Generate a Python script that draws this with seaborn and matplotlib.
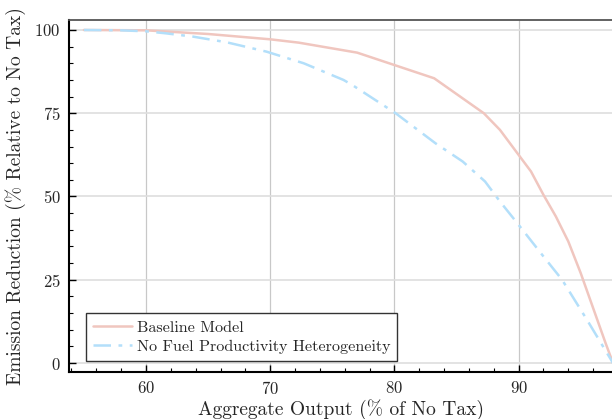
import matplotlib
matplotlib.use("Agg")
import matplotlib.pyplot as plt
import seaborn as sns
import pandas as pd
from matplotlib.ticker import MultipleLocator

# Data
base_x = [55.0, 60.0, 65.0, 70.0, 72.3, 77.0, 83.2, 87.2, 88.5, 90.0, 91.0, 92.0, 93.0, 94.0, 95.0, 96.0, 97.0, 97.6]
base_y = [100.0, 99.9, 98.8, 97.2, 96.2, 93.2, 85.5, 75.0, 70.0, 62.5, 57.5, 50.5, 44.0, 36.5, 27.0, 16.5, 6.0, 0.0]

nofuel_x = [55.0, 58.0, 60.0, 61.6, 63.8, 66.5, 69.7, 72.7, 75.9, 76.6, 80.1, 83.3, 85.5, 87.3, 88.5, 90.0, 92.0, 93.5, 95.5, 97.6]
nofuel_y = [100.0, 99.9, 99.6, 99.0, 98.0, 96.3, 93.5, 90.0, 85.0, 83.5, 75.0, 66.0, 60.5, 54.5, 48.5, 41.5, 32.0, 25.0, 13.0, 0.0]

labels = ["Baseline Model", "No Fuel Productivity Heterogeneity"]
colors = ["#F0C6BF", "#B3DFFA"]

df = pd.concat([
    pd.DataFrame({"x": base_x, "y": base_y, "series": labels[0]}),
    pd.DataFrame({"x": nofuel_x, "y": nofuel_y, "series": labels[1]}),
], ignore_index=True)

sns.set_theme(style="white")
plt.rcParams["font.family"] = ["cmr10", "DejaVu Serif"]
plt.rcParams["mathtext.fontset"] = "cm"
plt.rcParams["axes.formatter.use_mathtext"] = True

fig = plt.figure(figsize=(6.12, 4.19), dpi=100)
ax = fig.add_axes([69 / 612, (419 - 372) / 419, (613 - 69) / 612, (372 - 20) / 419])

sns.lineplot(data=df, x="x", y="y", hue="series", style="series",
             palette=dict(zip(labels, colors)),
             dashes={labels[0]: "", labels[1]: (7, 3, 1.5, 3)},
             linewidth=1.8, sort=False, estimator=None, ax=ax)

ax.set_xlim(53.8, 97.6)
ax.set_ylim(-2.7, 103)
ax.xaxis.set_major_locator(MultipleLocator(10))
ax.xaxis.set_minor_locator(MultipleLocator(2))
ax.yaxis.set_major_locator(MultipleLocator(25))
ax.yaxis.set_minor_locator(MultipleLocator(5))

ax.grid(True, which="major", axis="x", color="#c8c8c8", linewidth=0.9)
ax.grid(True, which="major", axis="y", color="#dedede", linewidth=1.2)

ax.tick_params(axis="both", which="major", direction="in", length=5, width=1.0,
               color="black", labelsize=12, pad=6, bottom=True, left=True)
ax.tick_params(axis="both", which="minor", direction="in", length=3, width=0.8,
               color="black", bottom=True, left=True)

for s in ["left", "bottom"]:
    ax.spines[s].set_color("black")
    ax.spines[s].set_linewidth(1.5)
ax.spines["top"].set_color("#555555")
ax.spines["top"].set_linewidth(1.3)
ax.spines["right"].set_visible(False)

ax.set_xlabel("Aggregate Output (% of No Tax)", fontsize=14, labelpad=1)
ax.set_ylabel("Emission Reduction (% Relative to No Tax)", fontsize=14, labelpad=6)

leg = ax.legend(loc="lower left", fontsize=11.6, frameon=True, fancybox=False,
                edgecolor="#333333", borderpad=0.45, labelspacing=0.3,
                handlelength=2.4, handletextpad=0.3, borderaxespad=0,
                bbox_to_anchor=(0.031, 0.031))
leg.get_frame().set_linewidth(1.0)
leg.get_frame().set_alpha(1.0)

fig.savefig("out.png", dpi=100)
